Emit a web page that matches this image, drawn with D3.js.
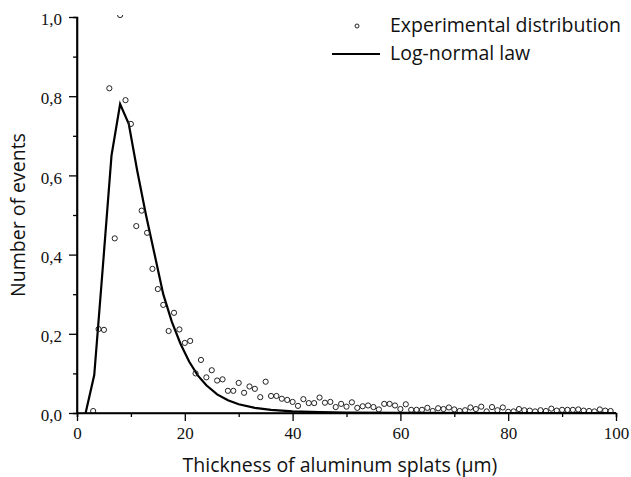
<!DOCTYPE html>
<html><head><meta charset="utf-8">
<script src="https://cdn.jsdelivr.net/npm/d3@7"></script>
<style>body{margin:0;background:#fff}svg{display:block}</style>
</head><body>
<script>
// Experimental distribution (x in µm, y normalized)
const expX = [3,4,5,6,7,8,9,10,11,12,13,14,15,16,17,18,19,20,21,22,23,24,25,26,27,28,29,30,31,32,33,34,35,36,37,38,39,40,41,42,43,44,45,46,47,48,49,50,51,52,53,54,55,56,57,58,59,60,61,62,63,64,65,66,67,68,69,70,71,72,73,74,75,76,77,78,79,80,81,82,83,84,85,86,87,88,89,90,91,92,93,94,95,96,97,98,99];
const expY = [0.005,0.212,0.21,0.82,0.441,1.005,0.79,0.73,0.472,0.511,0.455,0.364,0.313,0.273,0.207,0.253,0.211,0.177,0.182,0.10,0.134,0.09,0.108,0.082,0.085,0.056,0.056,0.076,0.051,0.067,0.061,0.040,0.079,0.043,0.043,0.036,0.033,0.028,0.018,0.035,0.025,0.025,0.039,0.026,0.028,0.015,0.023,0.016,0.027,0.013,0.017,0.019,0.015,0.009,0.023,0.023,0.019,0.010,0.022,0.008,0.008,0.008,0.013,0.005,0.012,0.010,0.014,0.009,0.005,0.007,0.014,0.010,0.016,0.004,0.015,0.007,0.014,0.003,0.004,0.010,0.007,0.006,0.004,0.007,0.005,0.011,0.006,0.008,0.008,0.008,0.009,0.006,0.005,0.004,0.009,0.006,0.005];
// Log-normal law
const fitX = [1.6,3.2,4.8,6.4,8.0,9.6,11.2,12.8,14.4,16.0,17.6,19.2,20.8,22.4,24,26,28,30,33,36,40,45,50,60,80,100];
const fitY = [0,0.096,0.37,0.65,0.78,0.73,0.61,0.50,0.40,0.30,0.23,0.175,0.13,0.095,0.07,0.047,0.032,0.022,0.013,0.008,0.004,0.002,0.001,0.0003,0,0];
const xMajor = [0,20,40,60,80,100];
const xMinor = [10,30,50,70,90];
const yMajor = [0,0.2,0.4,0.6,0.8,1.0];
const yMinor = [0.1,0.3,0.5,0.7,0.9];
const legendLabels = ["Experimental distribution","Log-normal law"];
const xTitle = "Thickness of aluminum splats (µm)";
const yTitle = "Number of events";

const W=631,H=477;
const svg=d3.select("body").append("svg").attr("width",W).attr("height",H);
const x=d3.scaleLinear().domain([0,100]).range([77,616]);
const y=d3.scaleLinear().domain([0,1]).range([413,17]);
const fmt=d=>d3.format(".1f")(d).replace(".",",");

svg.append("defs").append("clipPath").attr("id","clip")
  .append("rect").attr("x",x(0)).attr("y",y(1)-2).attr("width",x(100)-x(0)+5).attr("height",y(0)-y(1)+2);

const plot=svg.append("g").attr("clip-path","url(#clip)");
plot.append("path").datum(fitX.map((d,i)=>[d,fitY[i]]))
  .attr("fill","none").attr("stroke","#000").attr("stroke-width",2.2).attr("stroke-linejoin","miter")
  .attr("d",d3.line().x(d=>x(d[0])).y(d=>y(d[1])));
plot.selectAll("circle.pt").data(expX.map((d,i)=>[d,expY[i]])).join("circle")
  .attr("class","pt").attr("cx",d=>x(d[0])).attr("cy",d=>y(d[1])).attr("r",2.6)
  .attr("fill","none").attr("stroke","#222").attr("stroke-width",1);

// axes
const tickFont="'Liberation Serif','Times New Roman',serif";
const gx=svg.append("g").attr("transform",`translate(0,${y(0)})`);
gx.call(d3.axisBottom(x).tickValues(xMajor).tickSize(8).tickPadding(6).tickFormat(d3.format("d")));
gx.append("g").call(d3.axisBottom(x).tickValues(xMinor).tickSize(4).tickFormat(""));
const gy=svg.append("g").attr("transform",`translate(${x(0)},0)`);
gy.call(d3.axisLeft(y).tickValues(yMajor).tickSize(8).tickPadding(7).tickFormat(fmt));
gy.append("g").call(d3.axisLeft(y).tickValues(yMinor).tickSize(4).tickFormat(""));
svg.selectAll(".domain").attr("stroke","#000").attr("stroke-width",1.6);
svg.selectAll(".tick line").attr("stroke","#000").attr("stroke-width",1.3);
svg.selectAll(".tick text").attr("font-family",tickFont).attr("font-size",17).attr("fill","#111");
gy.selectAll(".tick text").attr("dy","0.45em");
gx.select(".domain").attr("d",`M${x(0)},0H${x(100)}`);
gy.select(".domain").attr("d",`M0,${y(0)}V${y(1)}`);

// titles
const sans="'Open Sans','Noto Sans',sans-serif";
const fs=19.5;
svg.append("text").attr("x",340).attr("y",472).attr("text-anchor","middle")
  .attr("font-family",sans).attr("font-size",fs).attr("fill","#111").text(xTitle);
svg.append("text").attr("transform",`translate(25,${(y(0)+y(1))/2}) rotate(-90)`).attr("text-anchor","middle")
  .attr("font-family",sans).attr("font-size",fs).attr("fill","#111").text(yTitle);

// legend
const lg=svg.append("g");
lg.append("circle").attr("cx",357).attr("cy",26).attr("r",2).attr("fill","none").attr("stroke","#222").attr("stroke-width",1);
lg.append("text").attr("x",390).attr("y",32).attr("font-family",sans).attr("font-size",fs).attr("fill","#111").text(legendLabels[0]);
lg.append("line").attr("x1",332).attr("x2",380).attr("y1",54).attr("y2",54).attr("stroke","#000").attr("stroke-width",2.2);
lg.append("text").attr("x",390).attr("y",60).attr("font-family",sans).attr("font-size",fs).attr("fill","#111").text(legendLabels[1]);
</script>
</body></html>
